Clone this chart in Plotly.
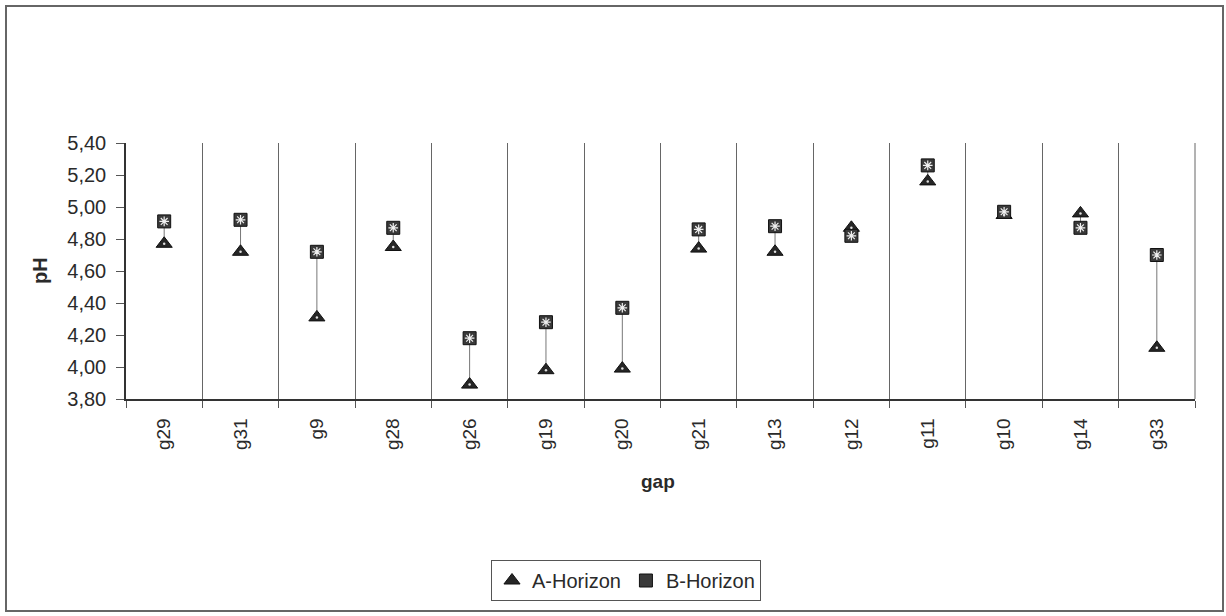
import plotly.graph_objects as go

# Gap sites and soil pH per horizon
gaps = ["g29", "g31", "g9", "g28", "g26", "g19", "g20", "g21", "g13", "g12", "g11", "g10", "g14", "g33"]
ph_a = [4.77, 4.72, 4.31, 4.75, 3.89, 3.98, 3.99, 4.74, 4.72, 4.87, 5.16, 4.95, 4.96, 4.12]
ph_b = [4.91, 4.92, 4.72, 4.87, 4.18, 4.28, 4.37, 4.86, 4.88, 4.82, 5.26, 4.97, 4.87, 4.70]
y_ticks = [3.8, 4.0, 4.2, 4.4, 4.6, 4.8, 5.0, 5.2, 5.4]
y_tick_text = ["3,80", "4,00", "4,20", "4,40", "4,60", "4,80", "5,00", "5,20", "5,40"]

FONT = "Arial, Liberation Sans, sans-serif"
INK = "#2a2a2a"
LINE = "#555555"

# plot area in pixels, used to place the frame and annotations
PL, PR, PT, PB = 126, 1195, 143, 399
PW, PH = PR - PL, PB - PT


def px(x):
    return (x - PL) / PW


def py(y):
    return (PB - y) / PH


# high-low connectors between the two horizons of each gap
hl_x, hl_y = [], []
for g, a, b in zip(gaps, ph_a, ph_b):
    hl_x += [g, g, None]
    hl_y += [a, b, None]

fig = go.Figure()
fig.add_trace(go.Scatter(
    x=hl_x, y=hl_y, mode="lines", line=dict(color="#777777", width=1),
    showlegend=False, hoverinfo="skip"))
fig.add_trace(go.Scatter(
    x=gaps, y=ph_a, mode="markers", name="A-Horizon",
    marker=dict(symbol="triangle-up", size=14, color="#262626",
                line=dict(color="#111111", width=1))))
fig.add_trace(go.Scatter(
    x=gaps, y=ph_b, mode="markers", name="B-Horizon",
    marker=dict(symbol="square", size=13, color="#3a3a3a",
                line=dict(color="#111111", width=1))))
# light dotted pattern inside the B-Horizon squares
fig.add_trace(go.Scatter(
    x=gaps, y=ph_b, mode="markers", showlegend=False, hoverinfo="skip",
    marker=dict(symbol="asterisk", size=8, color="#f0f0f0",
                line=dict(color="#f0f0f0", width=1.2))))
# small light dot inside the A-Horizon triangles
fig.add_trace(go.Scatter(
    x=gaps, y=ph_a, mode="markers", showlegend=False, hoverinfo="skip",
    marker=dict(symbol="circle", size=2.5, color="#e0e0e0", line=dict(width=0))))

fig.update_layout(
    width=1226, height=616,
    margin=dict(l=PL, r=1226 - PR, t=PT, b=616 - PB),
    paper_bgcolor="white", plot_bgcolor="white",
    font=dict(family=FONT, color=INK, size=19),
    legend=dict(
        orientation="h", x=px(626), xanchor="center", y=py(560), yanchor="top",
        bordercolor="#555555", borderwidth=1, bgcolor="white",
        font=dict(family=FONT, size=20, color=INK),
        itemwidth=30, tracegroupgap=0),
    xaxis=dict(
        type="category", categoryorder="array", categoryarray=gaps,
        tickson="boundaries", ticks="outside", ticklen=7, tickcolor=LINE,
        tickangle=-90, tickfont=dict(size=19, family=FONT, color=INK),
        showgrid=True, gridcolor="#666666", gridwidth=1,
        showline=True, linecolor="#333333", linewidth=1.5,
        range=[-0.5, 13.5], zeroline=False, ticklabelstandoff=10),
    yaxis=dict(
        range=[3.8, 5.4], tickvals=y_ticks, ticktext=y_tick_text,
        ticks="outside", ticklen=8, tickcolor=LINE,
        tickfont=dict(size=20, family=FONT, color=INK),
        showgrid=False, zeroline=False, ticklabelstandoff=6,
        showline=True, linecolor="#333333", linewidth=1.5),
    annotations=[
        dict(text="<b>pH</b>", xref="paper", yref="paper", x=px(40), y=0.5,
             xanchor="center", yanchor="middle", textangle=-90, showarrow=False,
             font=dict(size=20, family=FONT, color=INK)),
        dict(text="<b>gap</b>", xref="paper", yref="paper", x=px(658), y=py(481),
             xanchor="center", yanchor="middle", showarrow=False,
             font=dict(size=19, family=FONT, color=INK)),
    ],
    shapes=[
        # right edge of the plot area
        dict(type="line", xref="paper", yref="paper", x0=1, x1=1, y0=0, y1=1,
             line=dict(color="#666666", width=1)),
        # outer chart frame
        dict(type="rect", xref="paper", yref="paper",
             x0=px(6), x1=px(1223), y0=py(611), y1=py(6),
             line=dict(color="#666666", width=2)),
    ],
)

fig.write_html("out.html")
